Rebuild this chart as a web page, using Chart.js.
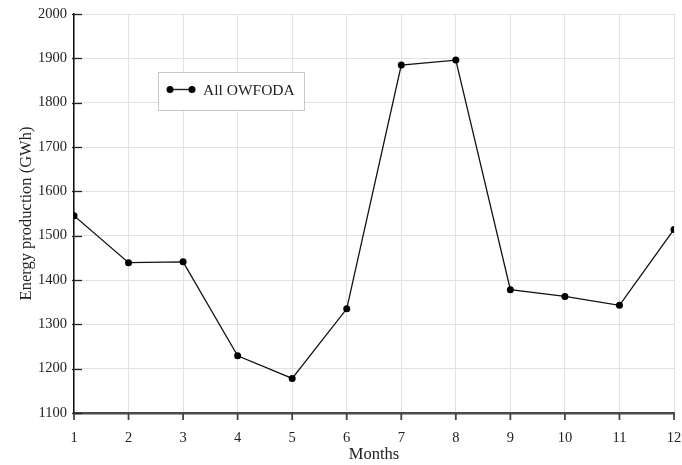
<!DOCTYPE html>
<html>
<head>
<meta charset="utf-8">
<script src="https://cdn.jsdelivr.net/npm/chart.js@4/dist/chart.umd.min.js"></script>
<style>
  html, body { margin: 0; padding: 0; background: #fff; }
  #wrap { width: 682px; height: 465px; }
</style>
</head>
<body>
<div id="wrap"><canvas id="c" width="682" height="465"></canvas></div>
<script>
// Monthly energy production, all OWFODA sites
const months = [1, 2, 3, 4, 5, 6, 7, 8, 9, 10, 11, 12];
const production = [1545, 1439, 1441, 1229, 1178, 1335, 1885, 1896, 1378, 1363, 1343, 1514];
const seriesLabel = 'All OWFODA';
const yTicks = [1100, 1200, 1300, 1400, 1500, 1600, 1700, 1800, 1900, 2000];

const FONT = '"Liberation Serif", "DejaVu Serif", serif';

// Short dark tick marks crossing the axes
const tickMarks = {
  id: 'tickMarks',
  afterDraw(chart) {
    const { ctx, chartArea, scales } = chart;
    ctx.save();
    ctx.strokeStyle = '#222';
    ctx.lineWidth = 1.3;
    yTicks.forEach(v => {
      const y = Math.round(scales.y.getPixelForValue(v)) + 0.5;
      ctx.beginPath();
      ctx.moveTo(chartArea.left - 2, y);
      ctx.lineTo(chartArea.left + 8, y);
      ctx.stroke();
    });
    ctx.strokeStyle = '#444';
    ctx.lineWidth = 1.8;
    months.forEach(m => {
      const x = scales.x.getPixelForValue(m);
      ctx.beginPath();
      ctx.moveTo(x, chartArea.bottom);
      ctx.lineTo(x, chartArea.bottom + 7);
      ctx.stroke();
    });
    ctx.restore();
  }
};

// Boxed legend inside the plot area
const boxLegend = {
  id: 'boxLegend',
  afterDraw(chart) {
    const { ctx, chartArea } = chart;
    const left = chartArea.left + 84, top = chartArea.top + 58;
    const w = 146, h = 38;
    ctx.save();
    ctx.fillStyle = '#fff';
    ctx.strokeStyle = '#c8c8c8';
    ctx.lineWidth = 1;
    ctx.fillRect(left, top, w, h);
    ctx.strokeRect(left + 0.5, top + 0.5, w, h);
    const cy = top + 17.5;
    ctx.strokeStyle = '#222';
    ctx.lineWidth = 1.4;
    ctx.beginPath();
    ctx.moveTo(left + 12, cy);
    ctx.lineTo(left + 34, cy);
    ctx.stroke();
    ctx.fillStyle = '#000';
    [left + 12, left + 34].forEach(x => {
      ctx.beginPath();
      ctx.arc(x, cy, 3.5, 0, Math.PI * 2);
      ctx.fill();
    });
    ctx.font = '15.5px ' + FONT;
    ctx.textBaseline = 'middle';
    ctx.fillStyle = '#222';
    ctx.fillText(chart.data.datasets[0].label, left + 45, cy + 1);
    ctx.restore();
  }
};

new Chart(document.getElementById('c'), {
  type: 'line',
  data: {
    datasets: [{
      label: seriesLabel,
      data: months.map((m, i) => ({ x: m, y: production[i] })),
      borderColor: '#111',
      borderWidth: 1.3,
      pointRadius: 3.5,
      pointBackgroundColor: '#000',
      pointBorderColor: '#000',
      pointBorderWidth: 0,
      tension: 0
    }]
  },
  options: {
    responsive: false,
    animation: false,
    devicePixelRatio: 1,
    layout: { padding: { top: 14, right: 8, left: 0, bottom: 0 } },
    plugins: { legend: { display: false }, tooltip: { enabled: false } },
    scales: {
      x: {
        type: 'linear',
        min: 1, max: 12,
        afterFit(s) { s.height = 52; s.paddingLeft = 0; s.paddingRight = 0; },
        afterBuildTicks(s) { s.ticks = months.map(v => ({ value: v })); },
        grid: { color: '#e2e2e2', lineWidth: 1, drawTicks: false },
        border: { color: '#4a4a4a', width: 2.5 },
        ticks: { color: '#222', font: { family: FONT, size: 14.5 }, padding: 16, maxRotation: 0, callback: v => String(v) },
        title: { display: true, text: 'Months', color: '#222', font: { family: FONT, size: 16.5 }, padding: { top: 0, bottom: 0 } }
      },
      y: {
        min: 1100, max: 2000,
        afterFit(s) { s.width = 74; s.paddingTop = 0; s.paddingBottom = 0; },
        afterBuildTicks(s) { s.ticks = yTicks.map(v => ({ value: v })); },
        grid: { color: '#e2e2e2', lineWidth: 1, drawTicks: false },
        border: { color: '#111', width: 1.5 },
        ticks: { color: '#222', font: { family: FONT, size: 14.5 }, padding: 7, callback: v => String(v) },
        title: { display: true, text: 'Energy production (GWh)', color: '#222', font: { family: FONT, size: 16.5 }, padding: { top: 17, bottom: 0 } }
      }
    }
  },
  plugins: [tickMarks, boxLegend]
});
</script>
</body>
</html>
